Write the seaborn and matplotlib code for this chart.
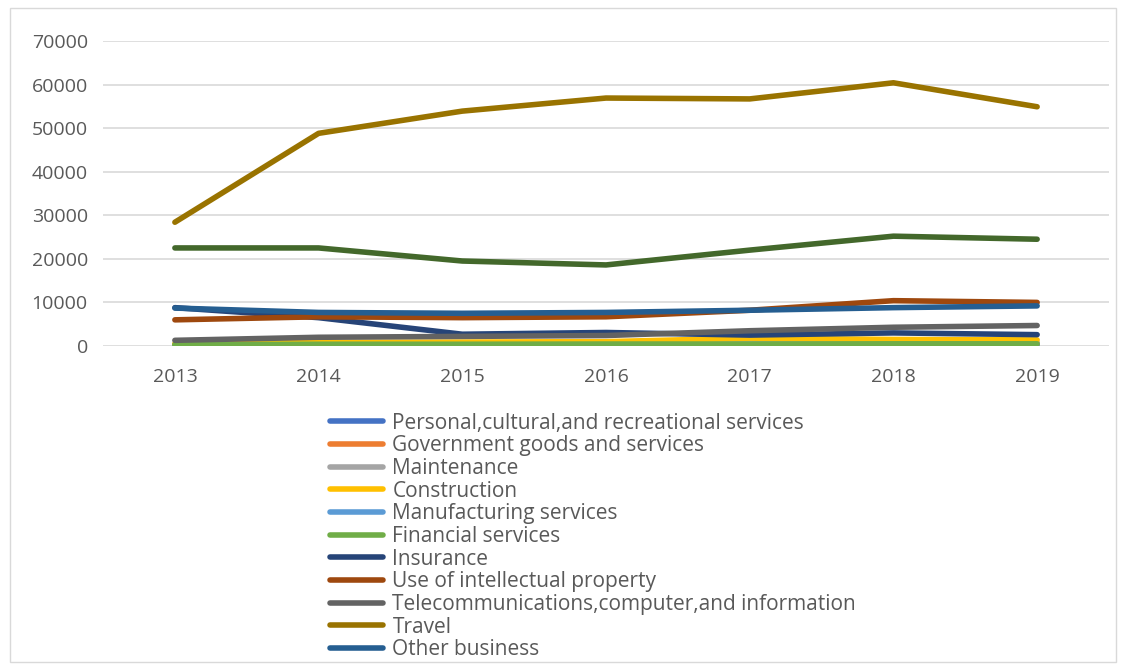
import matplotlib
matplotlib.use("Agg")
import matplotlib.pyplot as plt
from matplotlib.lines import Line2D
from matplotlib.patches import Rectangle
import numpy as np
import pandas as pd
import seaborn as sns

years = ["2013", "2014", "2015", "2016", "2017", "2018", "2019"]

personal = [200, 250, 250, 300, 300, 350, 350]
government = [150, 150, 150, 150, 150, 150, 150]
maintenance = [500, 600, 600, 650, 700, 750, 800]
construction = [500, 800, 900, 1000, 1800, 1500, 1400]
manufacturing = [100, 100, 100, 100, 100, 100, 100]
financial = [300, 400, 400, 450, 450, 500, 500]
insurance = [8800, 6500, 2700, 3100, 2500, 3000, 2600]
intellectual = [6000, 6700, 6500, 6700, 8200, 10400, 10000]
telecom = [1300, 2000, 2200, 2400, 3500, 4300, 4700]
travel = [28400, 48800, 53900, 56900, 56700, 60400, 54900]
other_business = [8700, 7700, 7500, 7700, 8200, 8800, 9200]
transport = [22500, 22500, 19500, 18600, 22000, 25200, 24500]

series_names = [
    "Personal,cultural,and recreational services",
    "Government goods and services",
    "Maintenance",
    "Construction",
    "Manufacturing services",
    "Financial services",
    "Insurance",
    "Use of intellectual property",
    "Telecommunications,computer,and information",
    "Travel",
    "Other business",
]
series_values = [personal, government, maintenance, construction, manufacturing,
                 financial, insurance, intellectual, telecom, travel, other_business]
series_colors = ["#4472C4", "#ED7D31", "#A5A5A5", "#FFC000", "#5B9BD5", "#70AD47",
                 "#264478", "#9E480E", "#636363", "#997300", "#255E91"]

sns.set_theme(style="white")
plt.rcParams["font.family"] = ["Open Sans", "DejaVu Sans"]

rows = []
for name, vals in zip(series_names, series_values):
    for i, v in enumerate(vals):
        rows.append({"idx": i, "value": v, "series": name})
df = pd.DataFrame(rows)
df_transport = pd.DataFrame({"idx": range(len(years)), "value": transport})

fig = plt.figure(figsize=(11.26, 6.66), dpi=100)
ax = fig.add_axes([0.0915, 0.4805, 0.8934, 0.458])

lw = 4.0
sns.lineplot(data=df_transport, x="idx", y="value", color="#43682B",
             linewidth=lw, ax=ax, legend=False, zorder=3)
sns.lineplot(data=df, x="idx", y="value", hue="series", hue_order=series_names,
             palette=series_colors, linewidth=lw, ax=ax, legend=False,
             zorder=3, sort=False)

ax.set_xlim(-0.5, len(years) - 0.5)
ax.set_ylim(0, 70000)
ax.set_yticks(np.arange(0, 70001, 10000))
ax.set_yticklabels([str(v) for v in range(0, 70001, 10000)])
ax.set_xticks(range(len(years)))
ax.set_xticklabels(years)
ax.set_xlabel("")
ax.set_ylabel("")
ax.grid(axis="y", color="#D9D9D9", linewidth=1.2)
ax.set_axisbelow(True)
for s in ax.spines.values():
    s.set_visible(False)
ax.tick_params(axis="both", length=0, labelsize=14, labelcolor="#595959")
ax.tick_params(axis="x", pad=16)
ax.tick_params(axis="y", pad=11)

handles = [Line2D([0], [0], color=c, linewidth=lw) for c in series_colors]
fig.legend(handles, series_names, loc="upper left",
           bbox_to_anchor=(0.293, 0.3805), frameon=False, fontsize=15,
           handlelength=2.55, handletextpad=0.45, labelspacing=0.08,
           labelcolor="#595959", borderaxespad=0, borderpad=0)

fig.add_artist(Rectangle((0.009, 0.006), 0.982, 0.982, transform=fig.transFigure,
                         fill=False, edgecolor="#D9D9D9", linewidth=1))

fig.savefig("out.png", dpi=100)
